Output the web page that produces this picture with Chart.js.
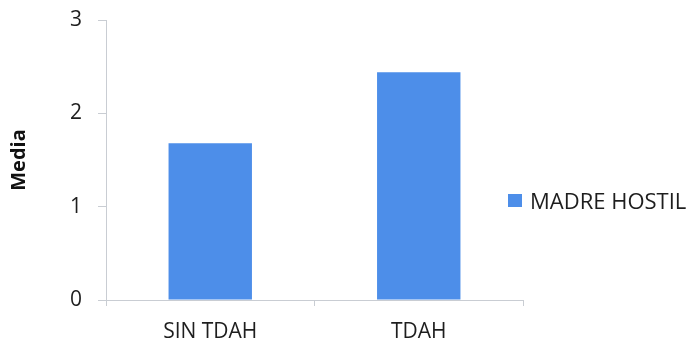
<!DOCTYPE html>
<html>
<head>
<meta charset="utf-8">
<script src="https://cdn.jsdelivr.net/npm/chart.js@4"></script>
<style>
  body { margin: 0; background: #fff; }
  #wrap { position: relative; width: 693px; height: 341px; }
  #legend { position: absolute; left: 508px; top: 185px; font: 22px "Open Sans", sans-serif; color: #1e1e1e; display: flex; align-items: center; white-space: nowrap; }
  #legend span.box { display: inline-block; width: 14px; height: 13px; background: #4d8ee9; margin-right: 8px; }
</style>
</head>
<body>
<div id="wrap">
  <canvas id="grafico" width="693" height="341"></canvas>
  <div id="legend"><span class="box"></span><span id="legendText"></span></div>
</div>
<script>
// datos
const categorias = ['SIN TDAH', 'TDAH'];
const serieNombre = 'MADRE HOSTIL';
const valores = [1.68, 2.44];
const colorBarra = '#4d8ee9';
const colorEje = '#c9cdd3';

document.getElementById('legendText').textContent = serieNombre;

const ctx = document.getElementById('grafico').getContext('2d');
new Chart(ctx, {
    type: 'bar',
    data: {
        labels: categorias,
        datasets: [{
            label: serieNombre,
            data: valores,
            backgroundColor: colorBarra,
            barPercentage: 0.4,
            categoryPercentage: 1
        }]
    },
    options: {
        responsive: false,
        animation: false,
        layout: { padding: { left: 0, right: 170, top: 20, bottom: 0 } },
        plugins: {
            legend: { display: false },
            tooltip: { enabled: false }
        },
        scales: {
            x: {
                afterFit: (s) => { s.height = 41; s.paddingLeft = 0; s.paddingRight = 0; },
                border: { color: colorEje, width: 1 },
                grid: { drawOnChartArea: false, color: colorEje, tickLength: 6, offset: true },
                ticks: { color: '#1e1e1e', padding: 13, font: { family: 'Open Sans', size: 21 } }
            },
            y: {
                min: 0,
                max: 3,
                // sin relleno extra arriba/abajo por las etiquetas
                afterFit: (s) => { s.width = 106; s.paddingTop = 0; s.paddingBottom = 0; },
                border: { color: colorEje, width: 1 },
                grid: { drawOnChartArea: false, color: colorEje, tickLength: 8 },
                ticks: { stepSize: 1, color: '#1e1e1e', padding: 16, font: { family: 'Open Sans', size: 21 } },
                title: {
                    display: true,
                    text: 'Media',
                    color: '#111',
                    padding: { top: 7, bottom: 0 },
                    font: { family: 'Open Sans', size: 20, weight: 'bold' }
                }
            }
        }
    }
});
</script>
</body>
</html>
